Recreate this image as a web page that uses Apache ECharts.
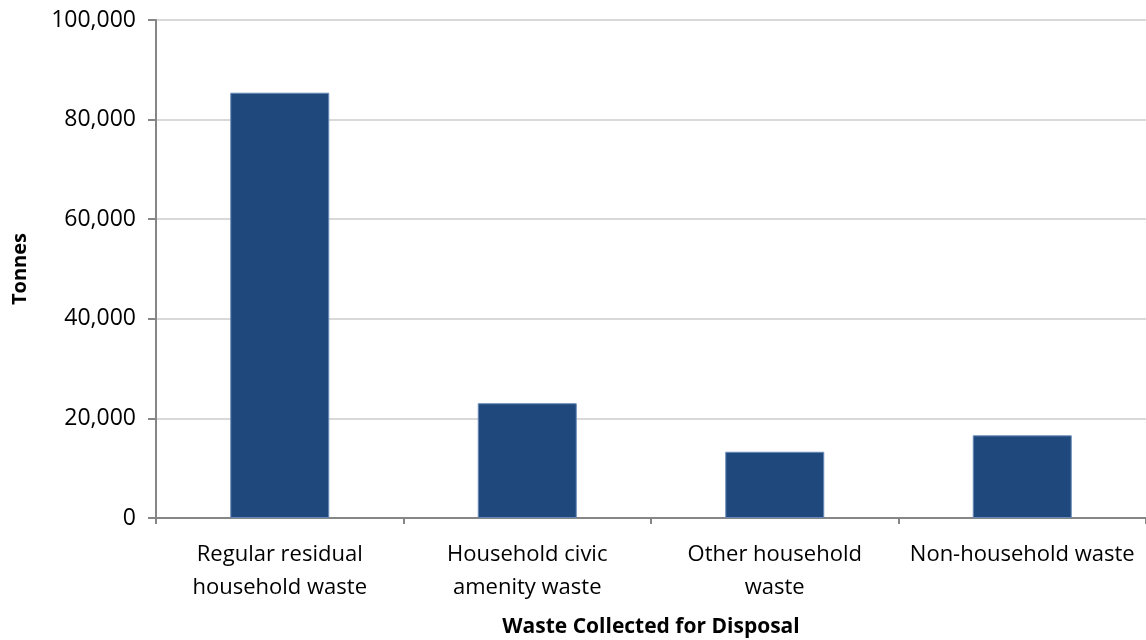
<!DOCTYPE html>
<html>
<head>
<meta charset="utf-8">
<script src="https://cdn.jsdelivr.net/npm/echarts@6/dist/echarts.min.js"></script>
<style>
html,body{margin:0;padding:0;background:#fff;}
#chart{width:1146px;height:640px;}
</style>
</head>
<body>
<div id="chart"></div>
<script>
// waste collected for disposal, tonnes
var categories = ['Regular residual\nhousehold waste', 'Household civic\namenity waste', 'Other household\nwaste', 'Non-household waste'];
var tonnes = [85400, 23050, 13300, 16600];

var myChart = echarts.init(document.getElementById('chart'));
var fnt = '"Open Sans", Lato, sans-serif';

option = {
    animation: false,
    grid: {
        left: 156,
        right: 0,
        top: 20,
        bottom: 122,
        outerBoundsMode: 'none',
        containLabel: false
    },
    xAxis: {
        type: 'category',
        data: categories,
        name: 'Waste Collected for Disposal',
        nameLocation: 'middle',
        nameGap: 99,
        nameTextStyle: {
            fontFamily: fnt, fontSize: 21, fontWeight: 'bold', color: '#000'
        },
        axisLine: {lineStyle: {color: '#868686', width: 2}},
        axisTick: {show: true, length: 6, lineStyle: {color: '#868686', width: 2}},
        axisLabel: {
            fontFamily: fnt, fontSize: 22, color: '#000', margin: 20, lineHeight: 33, interval: 0
        }
    },
    yAxis: {
        type: 'value',
        min: 0,
        max: 100000,
        interval: 20000,
        name: 'Tonnes',
        nameLocation: 'middle',
        nameGap: 126,
        nameTextStyle: {
            fontFamily: fnt, fontSize: 20, fontWeight: 'bold', color: '#000'
        },
        axisLine: {show: true, lineStyle: {color: '#868686', width: 2}},
        axisTick: {show: true, length: 8, lineStyle: {color: '#868686', width: 2}},
        splitLine: {lineStyle: {color: '#d9d9d9', width: 2}},
        axisLabel: {
            fontFamily: fnt, fontSize: 23, color: '#000', margin: 20,
            formatter: function (v) { return v.toLocaleString('en-US'); }
        }
    },
    series: [
        {
            name: 'Tonnes',
            type: 'bar',
            data: tonnes,
            barWidth: '40%',
            itemStyle: {
                color: '#1f497d',
                borderColor: '#6a8bb8',
                borderWidth: 1
            }
        }
    ]
};

myChart.setOption(option);
</script>
</body>
</html>
